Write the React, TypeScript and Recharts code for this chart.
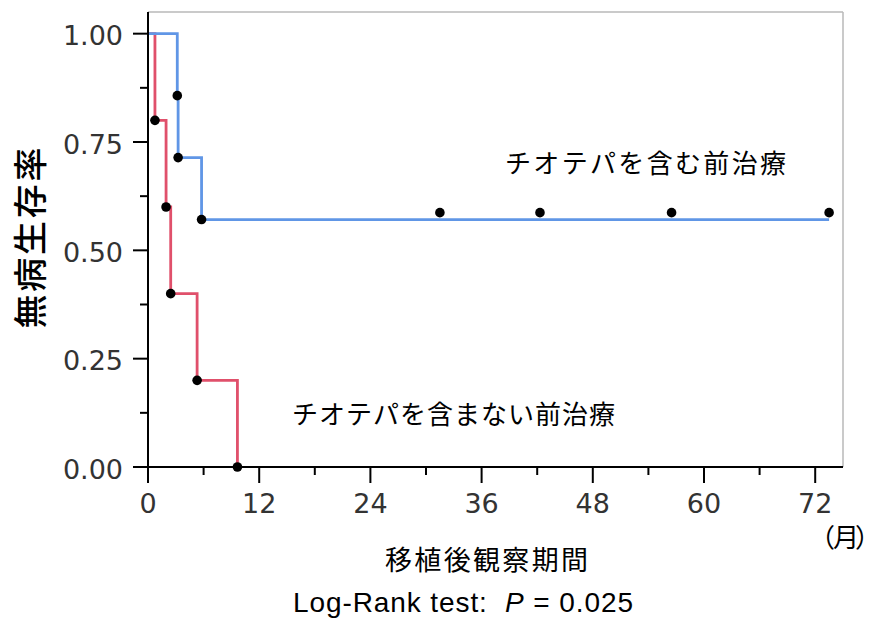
import React from 'react';
import { ComposedChart, Line, Scatter, XAxis, YAxis, ReferenceLine } from 'recharts';

// Kaplan–Meier step data (months, survival)
const blueTimes = [0, 3.16, 3.25, 5.78, 73.5];
const blueSurv = [1, 0.857, 0.714, 0.571, 0.571];
const redTimes = [0, 0.75, 1.95, 2.45, 5.3, 9.65];
const redSurv = [1, 0.8, 0.6, 0.4, 0.2, 0];
// event marks
const blueEventTimes = [3.16, 3.25, 5.78];
const blueEventSurv = [0.857, 0.714, 0.571];
const redEventTimes = [0.75, 1.95, 2.45, 5.3, 9.65];
const redEventSurv = [0.8, 0.6, 0.4, 0.2, 0];
// censored marks
const blueCensorTimes = [31.5, 42.3, 56.5, 73.5];
const blueCensorSurv = [0.587, 0.587, 0.587, 0.587];

const xTicks = [0, 6, 12, 18, 24, 30, 36, 42, 48, 54, 60, 66, 72];
const yTicks = [0, 0.125, 0.25, 0.375, 0.5, 0.625, 0.75, 0.875, 1];

const labelWith = 'チオテパを含む前治療';
const labelWithout = 'チオテパを含まない前治療';
const yTitle = '無病生存率';
const xTitle = '移植後観察期間';
const unitLabel = '（月）';

const zip = (ts: number[], ss: number[]) => ts.map((t, i) => ({ t, s: ss[i] }));

const blueLine = zip(blueTimes, blueSurv);
const redLine = zip(redTimes, redSurv);
const blueEvents = zip(blueEventTimes, blueEventSurv);
const redEvents = zip(redEventTimes, redEventSurv);
const blueCensor = zip(blueCensorTimes, blueCensorSurv);

const BLUE = '#6096e6';
const RED = '#e0506b';
const tickFont = '"DejaVu Sans", Verdana, sans-serif';
const jpFont = '"Noto Sans CJK JP", "Noto Sans", sans-serif';

const XTick = (props: any) => {
  const { x, y, payload } = props;
  const major = payload.value % 12 === 0;
  return (
    <g>
      <line x1={x} x2={x} y1={y} y2={y + (major ? 16 : 8)} stroke="#000" strokeWidth={2} />
      {major && (
        <text x={x} y={y + 36} textAnchor="middle" dominantBaseline="central" fontFamily={tickFont} fontSize={27} fill="#333">
          {payload.value}
        </text>
      )}
    </g>
  );
};

const YTick = (props: any) => {
  const { x, y, payload } = props;
  const major = Math.abs((payload.value / 0.25) - Math.round(payload.value / 0.25)) < 1e-6;
  return (
    <g>
      <line x1={x - (major ? 15 : 8)} x2={x} y1={y} y2={y} stroke="#000" strokeWidth={2} />
      {major && (
        <text x={x - 25} y={y + 2} textAnchor="end" dominantBaseline="central" fontFamily={tickFont} fontSize={27} fill="#333">
          {payload.value.toFixed(2)}
        </text>
      )}
    </g>
  );
};

const Dot = (color: string) => (p: any) => <circle cx={p.cx} cy={p.cy} r={4.8} fill={color} />;

export default function App() {
  return (
    <div style={{ position: 'absolute', left: 0, top: 0, width: 881, height: 624, background: '#fff' }}>
      <ComposedChart width={881} height={624} margin={{ top: 12, right: 38, bottom: 97, left: 0 }}>
        <XAxis
          type="number"
          dataKey="t"
          domain={[0, 75]}
          ticks={xTicks}
          interval={0}
          height={60}
          tickSize={0}
          tickMargin={0}
          tick={<XTick />}
          axisLine={{ stroke: '#000', strokeWidth: 2 }}
          allowDuplicatedCategory={false}
        />
        <YAxis
          type="number"
          dataKey="s"
          domain={[0, 1.05]}
          ticks={yTicks}
          interval={0}
          width={148}
          tickSize={0}
          tickMargin={0}
          tick={<YTick />}
          axisLine={{ stroke: '#000', strokeWidth: 2 }}
        />
        <ReferenceLine y={1.05} stroke="#b8b8b8" strokeWidth={1.5} />
        <ReferenceLine x={75} stroke="#b8b8b8" strokeWidth={1.5} />
        <Line data={redLine} dataKey="s" type="stepAfter" stroke={RED} strokeWidth={2.8} dot={false} isAnimationActive={false} />
        <Line data={blueLine} dataKey="s" type="stepAfter" stroke={BLUE} strokeWidth={2.8} dot={false} isAnimationActive={false} />
        <Scatter data={redEvents} dataKey="s" shape={Dot('#000')} isAnimationActive={false} />
        <Scatter data={blueEvents} dataKey="s" shape={Dot('#000')} isAnimationActive={false} />
        <Scatter data={blueCensor} dataKey="s" shape={Dot('#000')} isAnimationActive={false} />
      </ComposedChart>
      <svg width={881} height={624} style={{ position: 'absolute', left: 0, top: 0, pointerEvents: 'none' }}>
        <text x={28} y={238} transform="rotate(-90 28 238)" textAnchor="middle" dominantBaseline="central" fontFamily={jpFont} fontSize={34} fontWeight={500} fill="#000" textLength={181} lengthAdjust="spacing">
          {yTitle}
        </text>
        <text x={505} y={161} dominantBaseline="central" fontFamily={jpFont} fontSize={26} fill="#000" textLength={281} lengthAdjust="spacing">
          {labelWith}
        </text>
        <text x={292} y={412} dominantBaseline="central" fontFamily={jpFont} fontSize={26} fill="#000" textLength={323} lengthAdjust="spacing">
          {labelWithout}
        </text>
        <text x={809} dx="0 -2 -4" y={535} dominantBaseline="central" fontFamily={jpFont} fontSize={26} fill="#000">
          {unitLabel}
        </text>
        <text x={385} y={558} dominantBaseline="central" fontFamily={jpFont} fontSize={27} fill="#000" textLength={203} lengthAdjust="spacing">
          {xTitle}
        </text>
        <text x={293} y={612} fontFamily={'"Liberation Sans", Arial, sans-serif'} fontSize={28} fill="#000" textLength={340} lengthAdjust="spacing">
          Log-Rank test:{'\u00a0\u00a0'}<tspan fontStyle="italic">P</tspan> = 0.025
        </text>
      </svg>
    </div>
  );
}
